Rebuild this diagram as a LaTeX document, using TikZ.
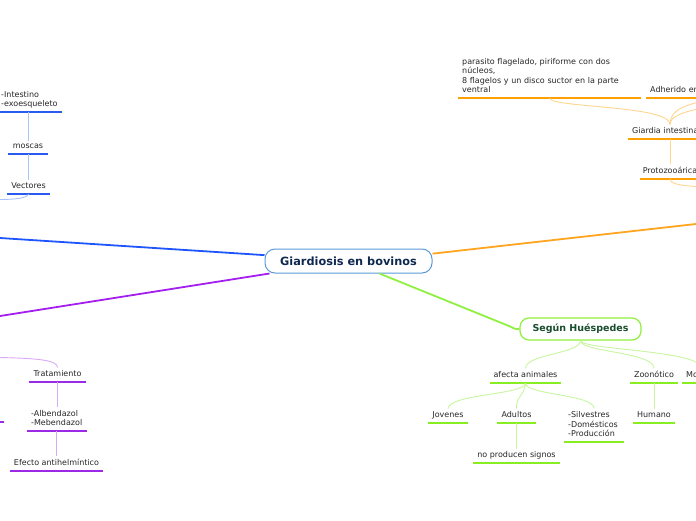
\documentclass[tikz,border=0pt]{standalone}
\usepackage{fontspec}
\setmainfont{DejaVu Sans}
\definecolor{blueM}{HTML}{1F55FF}
\definecolor{blueU}{HTML}{2A5BF0}
\definecolor{blueL}{HTML}{A9C3FF}
\definecolor{purpM}{HTML}{A51EF0}
\definecolor{purpU}{HTML}{9A2AE6}
\definecolor{purpL}{HTML}{DBA8F7}
\definecolor{orM}{HTML}{FFA51F}
\definecolor{orU}{HTML}{FFA000}
\definecolor{orL}{HTML}{FFD58F}
\definecolor{grM}{HTML}{90F040}
\definecolor{grU}{HTML}{88EE22}
\definecolor{grL}{HTML}{C8F5A0}
\definecolor{cenB}{HTML}{5A9AD6}
\definecolor{cenT}{HTML}{0F2850}
\definecolor{hueT}{HTML}{1A4D2E}
\definecolor{txt}{HTML}{262626}
\newcommand\lastdp{\rule[-2pt]{0pt}{2pt}}
\begin{document}
\begin{tikzpicture}[x=1pt,y=-1pt,
  subnode/.style={font=\fontsize{8}{9.5}\selectfont, text=txt, inner xsep=3pt, inner ysep=3pt, text depth=2pt, minimum width=#1pt, anchor=south},
  subleft/.style={font=\fontsize{8}{9.5}\selectfont, text=txt, inner xsep=4pt, inner ysep=3pt, text width=#1pt, align=left, anchor=south west},
  mainbox/.style={rounded corners=10pt, fill=white, line width=1pt, inner sep=0pt, font=\bfseries\fontsize{11.3}{13}\selectfont},
  mainline/.style={line width=1.8pt},
  ul/.style={line width=1.6pt},
  conn/.style={line width=0.9pt}]
\useasboundingbox (0,0) rectangle (696,520);

% central and secondary main nodes
\node[mainbox, draw=cenB, text=cenT, minimum width=167pt, minimum height=24pt] (cen) at (348.5,261) {Giardiosis en bovinos};
\node[mainbox, draw=grM, text=hueT, rounded corners=9pt, line width=1.2pt, minimum width=121pt, minimum height=22pt, font=\bfseries\fontsize{9.5}{11}\selectfont] (hues) at (580.5,329) {Según Huéspedes};

% free ends
\coordinate (bEnd) at (0,238);
\coordinate (pEnd) at (0,316);
\coordinate (oEnd) at (696,224);
\coordinate (gBend) at (509,326);

% main branches
\draw[mainline, blueM] (cen.176) -- (bEnd);
\draw[mainline, purpM] (cen.-171) -- (pEnd);
\draw[mainline, orM] (cen.5) -- (oEnd);
\draw[mainline, grM] (cen.-22) -- (gBend) .. controls (515,329) .. (hues.west);

% ---------- blue branch ----------
\node[subleft=57] (intest) at (-3,112) {-Intestino\\-exoesqueleto\lastdp};
\node[subnode=39] (moscas) at (28,154) {moscas};
\node[subnode=43] (vect) at (28.5,194) {Vectores};
\coordinate (vEnd) at (0,199.5);
\draw[ul, blueU] (intest.south west) -- (intest.south east);
\draw[ul, blueU] (moscas.south west) -- (moscas.south east);
\draw[ul, blueU] (vect.south west) -- (vect.south east);
\draw[conn, blueL] (moscas.north) -- (moscas.north |- intest.south);
\draw[conn, blueL] (vect.north) -- (vect.north |- moscas.south);
\draw[conn, blueL] (vect.south) .. controls (28,198) and (15,199.5) .. (vEnd);

% ---------- purple branch ----------
\node[subnode=57] (trat) at (57.5,382) {Tratamiento};
\node[subleft=52] (alb) at (27,431) {-Albendazol\\-Mebendazol\lastdp};
\node[subnode=93] (efec) at (56.5,471) {Efecto antihelmíntico};
\coordinate (tEnd) at (0,357.5);
\coordinate (ps1) at (-10,422);
\coordinate (ps2) at (4,422);
\draw[ul, purpU] (trat.south west) -- (trat.south east);
\draw[ul, purpU] (alb.south west) -- (alb.south east);
\draw[ul, purpU] (efec.south west) -- (efec.south east);
\draw[ul, purpU] (ps1) -- (ps2);
\draw[conn, purpL] (trat.north) .. controls (57,361) and (45,358.5) .. (tEnd);
\draw[conn, purpL] (trat.south -| alb.north) -- (alb.north);
\draw[conn, purpL] (alb.south -| efec.north) -- (efec.north);

% ---------- orange branch ----------
\node[subleft=175] (par) at (458,98) {parasito flagelado, piriforme con dos\\núcleos,\\8 flagelos y un disco suctor en la parte\\ventral\lastdp};
\node[subleft=120] (adh) at (646,98) {Adherido en\lastdp};
\node[subleft=90] (giard) at (628,139) {Giardia intestinalis\lastdp};
\node[subnode=60] (proto) at (670,179) {Protozooárica};
\coordinate (aEnd) at (800,98);
\coordinate (prEnd) at (730,189);
\draw[ul, orU] (par.south west) -- (par.south east);
\draw[ul, orU] (adh.south west) -- (adh.south east);
\draw[ul, orU] (giard.south west) -- (giard.south east);
\draw[ul, orU] (proto.south west) -- (proto.south east);
\draw[conn, orL] (par.south) .. controls (550,108) and (670,105) .. (giard.north -| proto.north);
\draw[conn, orL] (giard.north -| proto.north) .. controls (670,104) and (700,104) .. (adh.south);
\draw[conn, orL] (giard.north -| proto.north) .. controls (670,109) and (720,104) .. (aEnd);
\draw[conn, orL] (proto.north) -- (proto.north |- giard.south);
\draw[conn, orL] (proto.south) .. controls (670,186) and (690,186) .. (prEnd);

% ---------- green branch ----------
\node[subnode=71] (afec) at (525.5,383) {afecta animales};
\node[subnode=48] (zoon) at (654,383) {Zoonótico};
\node[subleft=32] (mo) at (682,383) {Mo\lastdp};
\node[subnode=40] (jov) at (448,423) {Jovenes};
\node[subnode=39] (adul) at (516.5,423) {Adultos};
\node[subleft=52] (silv) at (564,442) {-Silvestres\\-Domésticos\\-Producción\lastdp};
\node[subnode=42] (hum) at (654,423) {Humano};
\node[subnode=87] (nop) at (516.5,463) {no producen signos};
\foreach \n in {afec,zoon,mo,jov,adul,silv,hum,nop}
  \draw[ul, grU] (\n.south west) -- (\n.south east);
\draw[conn, grL] (hues.south) .. controls (580,354) and (525,354) .. (afec.north);
\draw[conn, grL] (hues.south) .. controls (580,352) and (654,352) .. (zoon.north);
\draw[conn, grL] (hues.south) .. controls (582,350) and (702,350) .. (mo.north);
\draw[conn, grL] (afec.south) .. controls (525,395) and (448,394) .. (jov.north);
\draw[conn, grL] (afec.south) .. controls (525,395) and (516,396) .. (adul.north);
\draw[conn, grL] (afec.south) .. controls (525,395) and (593.5,394) .. (silv.north);
\draw[conn, grL] (zoon.south) -- (hum.north);
\draw[conn, grL] (adul.south) -- (nop.north);
\end{tikzpicture}
\end{document}
